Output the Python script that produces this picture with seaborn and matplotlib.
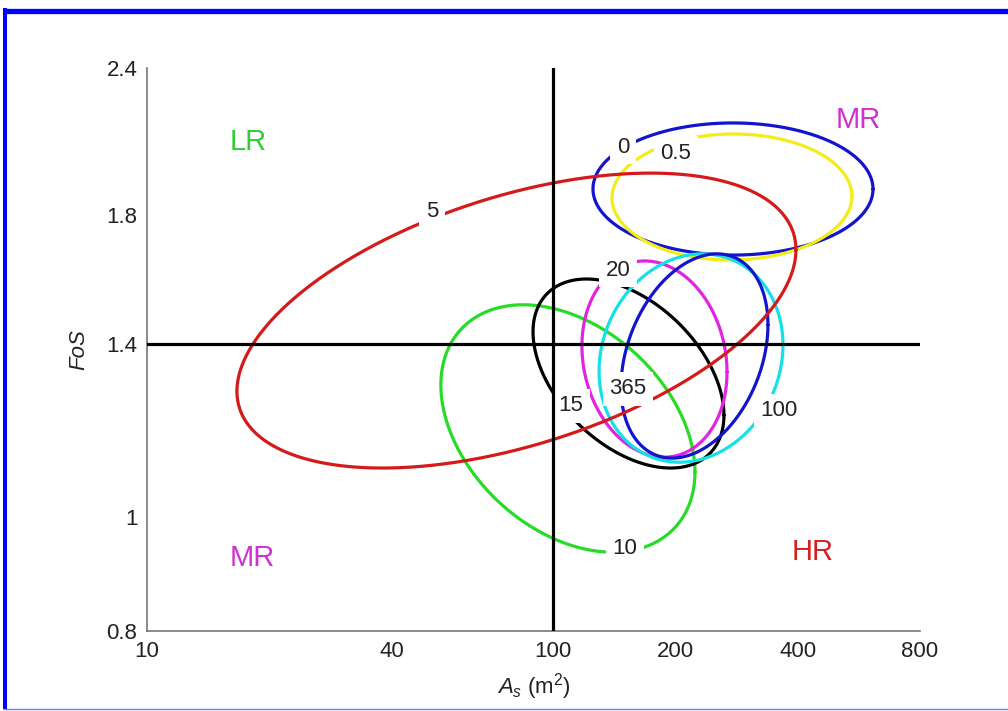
import numpy as np
import pandas as pd
import matplotlib
matplotlib.use("Agg")
import matplotlib.pyplot as plt
from matplotlib.lines import Line2D
from matplotlib.ticker import FixedLocator, FixedFormatter, NullLocator
import seaborn as sns

# Contour levels (days) and their line colours
levels = ["0", "0.5", "5", "10", "15", "20", "100", "365"]
colors = ["#1414cc", "#f4ec14", "#d41a1a", "#26dc26", "#000000", "#e024e0", "#14e0e8", "#1414cc"]

# Extent of each contour: As range (m^2), FoS range and FoS at the right-most point
as_min = [125.3, 139.6, 16.65, 52.9, 89.2, 117.7, 129.7, 146.9]
as_max = [612.9, 543.9, 396.0, 223.4, 263.3, 267.9, 367.9, 337.9]
fos_min = [1.666, 1.650, 1.0995, 0.933, 1.0995, 1.123, 1.112, 1.121]
fos_max = [2.156, 2.110, 1.955, 1.512, 1.590, 1.647, 1.670, 1.670]
fos_at_right = [1.895, 1.869, 1.683, 1.091, 1.219, 1.326, 1.398, 1.454]

# In-line label anchor for each contour
label_as = [148.5, 200.6, 50.3, 150.2, 110.6, 144.4, 359.7, 152.8]
label_fos = [2.057, 2.033, 1.813, 0.9406, 1.241, 1.618, 1.229, 1.283]

# Risk-zone annotations
zone_text = ["LR", "MR", "HR", "MR"]
zone_as = [17.7, 18.2, 436.0, 563.0]
zone_fos = [2.077, 0.9225, 0.933, 2.168]
zone_colors = ["#33cc33", "#d030d0", "#d42020", "#d030d0"]

# Axis ticks
x_ticks = [10, 20, 30, 40, 80, 100, 200, 400, 800]
x_tick_labels = ["10", "", "", "40", "", "100", "200", "400", "800"]
y_ticks = [0.8, 1.0, 1.4, 1.8, 2.4]
y_tick_labels = ["0.8", "1", "1.4", "1.8", "2.4"]

# Threshold lines
as_threshold = 100
fos_threshold = 1.4

draw_order = ["0", "0.5", "10", "15", "20", "100", "365", "5"]

# Build closed elliptical contours in log-log space
t = np.linspace(0, 2 * np.pi, 721)
frames = []
for lev, x0, x1, y0, y1, yr in zip(levels, as_min, as_max, fos_min, fos_max, fos_at_right):
    cx = (np.log10(x0) + np.log10(x1)) / 2
    rx = (np.log10(x1) - np.log10(x0)) / 2
    cy = (np.log10(y0) + np.log10(y1)) / 2
    ry = (np.log10(y1) - np.log10(y0)) / 2
    phi = np.arccos(np.clip((np.log10(yr) - cy) / ry, -1, 1))
    lx = cx + rx * np.cos(t)
    ly = cy + ry * np.cos(t - phi)
    frames.append(pd.DataFrame({"As": 10 ** lx, "FoS": 10 ** ly, "level": lev}))
df = pd.concat(frames, ignore_index=True)

sns.set_theme(style="white")
plt.rcParams["font.family"] = ["Liberation Sans", "DejaVu Sans"]
plt.rcParams["mathtext.fontset"] = "custom"
plt.rcParams["mathtext.rm"] = "Liberation Sans"
plt.rcParams["mathtext.it"] = "Liberation Sans:italic"

fig = plt.figure(figsize=(10.08, 7.11), dpi=100)
ax = fig.add_axes([147 / 1008, 1 - 631 / 711, (920 - 147) / 1008, (631 - 68) / 711])
ax.set_xscale("log")
ax.set_yscale("log")

sns.lineplot(data=df, x="As", y="FoS", hue="level", hue_order=draw_order,
             palette=dict(zip(levels, colors)), sort=False, estimator=None,
             linewidth=2.3, legend=False, ax=ax)

ax.axhline(fos_threshold, color="black", lw=2.3, zorder=6)
ax.axvline(as_threshold, color="black", lw=2.3, zorder=6)

for lev, xa, ya in zip(levels, label_as, label_fos):
    ax.text(xa, ya, lev, ha="center", va="center", fontsize=16, color="#222222", zorder=5,
            bbox=dict(boxstyle="square,pad=0.3", fc="white", ec="none"))

for txt, xa, ya, c in zip(zone_text, zone_as, zone_fos, zone_colors):
    ax.text(xa, ya, txt, ha="center", va="center", fontsize=21, color=c, zorder=5)

ax.set_xlim(10, 800)
ax.set_ylim(0.8, 2.4)
ax.xaxis.set_major_locator(FixedLocator(x_ticks))
ax.xaxis.set_major_formatter(FixedFormatter(x_tick_labels))
ax.xaxis.set_minor_locator(NullLocator())
ax.yaxis.set_major_locator(FixedLocator(y_ticks))
ax.yaxis.set_major_formatter(FixedFormatter(y_tick_labels))
ax.yaxis.set_minor_locator(NullLocator())

ax.tick_params(axis="both", direction="in", length=5, width=1.0, color="#777777",
               labelsize=16, labelcolor="#222222")
ax.tick_params(axis="y", pad=7)
ax.tick_params(axis="x", pad=7)
for side in ["top", "right"]:
    ax.spines[side].set_visible(False)
for side in ["left", "bottom"]:
    ax.spines[side].set_color("#777777")
    ax.spines[side].set_linewidth(1.2)

ax.set_xlabel(r"$A_s$ (m$^2$)", fontsize=16, color="#222222", labelpad=7)
ax.set_ylabel("FoS", fontsize=16, style="italic", color="#222222", labelpad=12)

# Blue frame around the figure
W, H = 1008, 711
fig.add_artist(Line2D([3 / W, 1.0], [1 - 10.5 / H, 1 - 10.5 / H], color="#0000ff", lw=3.8,
                      transform=fig.transFigure, solid_capstyle="butt"))
fig.add_artist(Line2D([5 / W, 5 / W], [1 - 8 / H, 1 - 708.5 / H], color="#0000ff", lw=2.9,
                      transform=fig.transFigure, solid_capstyle="butt"))
fig.add_artist(Line2D([3 / W, 1.0], [1 - 708.5 / H, 1 - 708.5 / H], color="#7777ff", lw=1.0,
                      transform=fig.transFigure, solid_capstyle="butt"))

fig.savefig("out.png", dpi=100)
